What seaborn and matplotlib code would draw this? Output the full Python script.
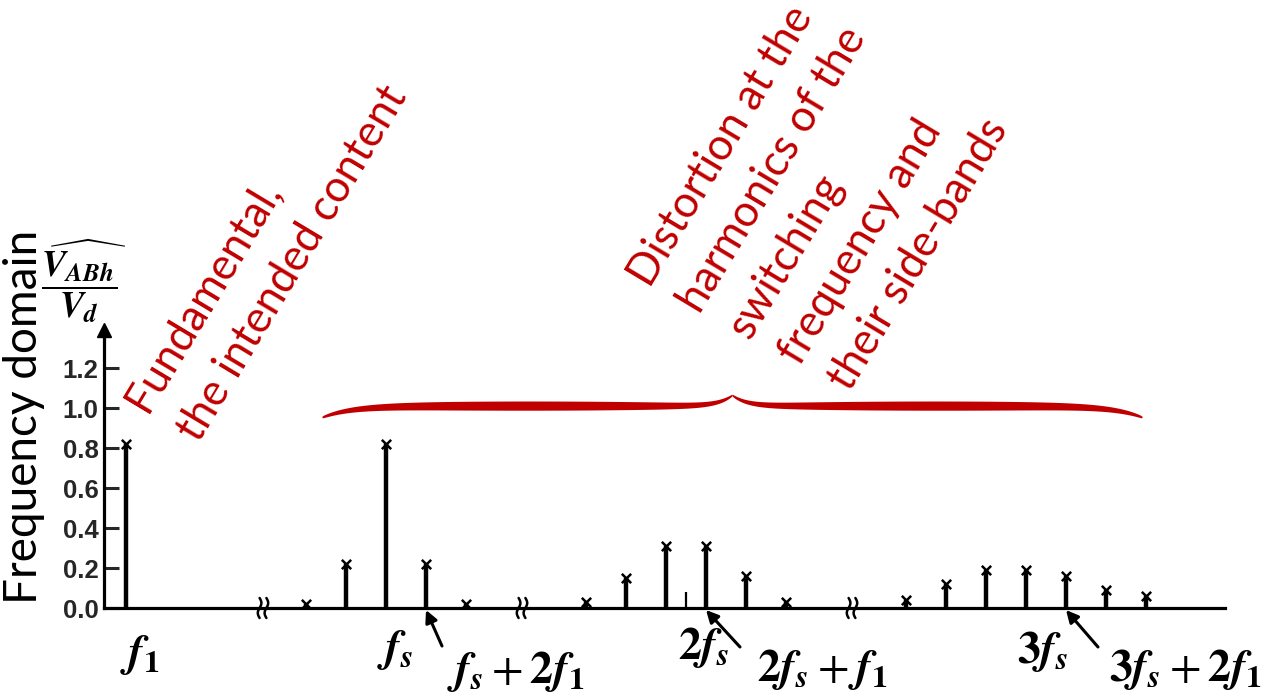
import numpy as np
import pandas as pd
import matplotlib.pyplot as plt
import seaborn as sns

# amplitudes V_ABh / V_d
# x positions are on a compressed axis: 1 unit = one f1 step, with breaks
fund_pos = [1]
fund_amp = [0.82]
band_centers = [14, 29, 46]          # fs, 2fs, 3fs
fs_offsets = [-4, -2, 0, 2, 4]
fs_amps = [0.02, 0.22, 0.82, 0.22, 0.02]
fs2_offsets = [-5, -3, -1, 1, 3, 5]
fs2_amps = [0.03, 0.15, 0.31, 0.31, 0.16, 0.03]
fs2_center_amp = 0.08                # thin line at 2fs, no marker
fs3_offsets = [-6, -4, -2, 0, 2, 4, 6]
fs3_amps = [0.04, 0.12, 0.19, 0.19, 0.16, 0.09, 0.06]
y_ticks = [0.0, 0.2, 0.4, 0.6, 0.8, 1.0, 1.2]
breaks = [7.85, 20.8, 37.3]

RED = "#C00000"

rows = [("f1", x, a) for x, a in zip(fund_pos, fund_amp)]
rows += [("fs", band_centers[0] + k, a) for k, a in zip(fs_offsets, fs_amps)]
rows += [("2fs", band_centers[1] + k, a) for k, a in zip(fs2_offsets, fs2_amps)]
rows += [("3fs", band_centers[2] + k, a) for k, a in zip(fs3_offsets, fs3_amps)]
df = pd.DataFrame(rows, columns=["band", "x", "amp"])

sns.set_theme(style="white")
plt.rcParams["font.family"] = ["Lato", "DejaVu Sans"]
plt.rcParams["mathtext.fontset"] = "stix"

fig = plt.figure(figsize=(12.69, 6.96), dpi=100)
W, H = 1269, 696
ax = fig.add_axes([104 / W, 88 / H, 1121 / W, 280 / H])

def fig_xy(px, py):
    return px / W, 1 - py / H

# stems + x markers
ax.vlines(df["x"], 0, df["amp"], color="black", lw=3.2)
ax.vlines([band_centers[1]], 0, [fs2_center_amp], color="black", lw=1.6)
sns.scatterplot(data=df, x="x", y="amp", marker="x", s=45, color="black",
                linewidth=1.8, ax=ax, legend=False, zorder=3)

ax.set_xlim(-0.1, 55.95)
ax.set_ylim(0, 1.4)
ax.set_xticks([])
ax.set_yticks(y_ticks, labels=[f"{v:.1f}" for v in y_ticks],
              fontsize=18.5, fontweight="bold", family="Liberation Sans")
ax.tick_params(axis="y", direction="in", length=11, width=2.2, pad=4, left=True)
ax.set_xlabel("")
ax.set_ylabel("")
for s in ["top", "right"]:
    ax.spines[s].set_visible(False)
for s in ["left", "bottom"]:
    ax.spines[s].set_linewidth(2.3)
    ax.spines[s].set_color("black")
ax.plot([0], [1.39], marker="^", ms=10, color="black",
        transform=ax.get_yaxis_transform(), clip_on=False)

# axis break marks
t = np.linspace(-1, 1, 30)
for b in breaks:
    for dx in (-0.17, 0.17):
        ax.plot(b + dx + 0.09 * np.sin(np.pi * t), 0.05 * t, color="black",
                lw=1.8, clip_on=False)

# frequency labels under the axis
MS = 33
def mlab(x, dx, dy, txt):
    ax.annotate(txt, xy=(x, 0), xytext=(dx, dy), textcoords="offset pixels",
                ha="center", va="center", fontsize=MS, color="black",
                annotation_clip=False)

fc = band_centers
mlab(fund_pos[0], 14, -47, r"$\mathbfit{f}_{\mathbf{1}}$")
mlab(fc[0], 9, -42, r"$\mathbfit{f}_{\mathbfit{s}}$")
mlab(fc[1], 18, -40, r"$\mathbf{2}\mathbfit{f}_{\mathbfit{s}}$")
mlab(fc[2], 17, -43, r"$\mathbf{3}\mathbfit{f}_{\mathbfit{s}}$")

side = [(fc[0] + 2, 442 - 426, 612 - 648, 516 - 426, 608 - 672,
         r"$\mathbfit{f}_{\mathbfit{s}}+\mathbf{2}\mathbfit{f}_{\mathbf{1}}$"),
        (fc[1] + 1, 741 - 707, 610 - 647, 823 - 707, 608 - 670,
         r"$\mathbf{2}\mathbfit{f}_{\mathbfit{s}}+\mathbfit{f}_{\mathbf{1}}$"),
        (fc[2] + 2, 1098 - 1066, 610 - 647, 1186 - 1066, 608 - 670,
         r"$\mathbf{3}\mathbfit{f}_{\mathbfit{s}}+\mathbf{2}\mathbfit{f}_{\mathbf{1}}$")]
for x, tx, ty, lx, ly, txt in side:
    ax.annotate("", xy=(x, -0.01), xytext=(tx, ty), textcoords="offset pixels",
                annotation_clip=False,
                arrowprops=dict(arrowstyle="-|>", color="black", lw=2.2,
                                mutation_scale=18, shrinkA=0, shrinkB=0))
    mlab(x, lx, ly, txt)

# y label and fraction
fig.text(*fig_xy(24, 417), "Frequency domain", rotation=90, ha="center",
         va="center", fontsize=33, color="black")
fig.text(*fig_xy(84, 281),
         r"$\dfrac{\widehat{\mathbfit{V}_{\mathbfit{ABh}}}}{\mathbfit{V}_{\mathbfit{d}}}$",
         ha="center", va="center", fontsize=26, color="black")

# red brace over the switching harmonics
xl, xr = 10.8, 51.8
xm = (xl + xr) / 2
y_end, y_flat, y_tip = 0.955, 1.012, 1.065
u = np.linspace(0, 1, 300)
yc = y_end + (y_flat - y_end) * (1 - np.exp(-u / 0.07)) \
    + (y_tip - y_flat) * np.exp(-(1 - u) / 0.035)
th = 0.019 * np.sin(np.pi * u) ** 0.5 + 0.004
xs_l = xl + u * (xm - xl)
xs_r = xr - u * (xr - xm)
ax.fill_between(xs_l, yc - th, yc + th, color=RED, lw=0, clip_on=False)
ax.fill_between(xs_r, yc - th, yc + th, color=RED, lw=0, clip_on=False)

# red rotated annotations
def red_block(lines, start, step, size):
    for i, line in enumerate(lines):
        px = start[0] + i * step[0]
        py = start[1] + i * step[1]
        fig.text(*fig_xy(px, py), line, rotation=59, rotation_mode="anchor",
                 ha="left", va="baseline", fontsize=size, color=RED)

red_block(["Fundamental,", "the intended content"], (147, 414), (52, 30), 31.5)
red_block(["Distortion at the", "harmonics of the", "switching",
           "frequency and", "their side-bands"], (650, 289), (50, 26), 31.5)

fig.savefig("out.png", dpi=100)
